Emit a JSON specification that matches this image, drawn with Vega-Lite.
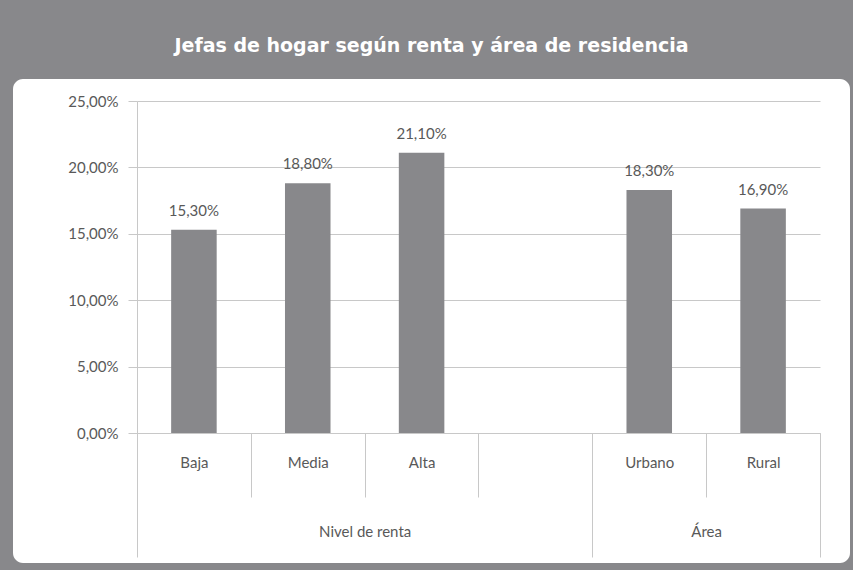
{
  "$schema": "https://vega.github.io/schema/vega-lite/v6.json",
  "width": 837,
  "height": 484,
  "autosize": "none",
  "padding": {"left": 13, "top": 79, "right": 3, "bottom": 7},
  "background": "#88888b",
  "title": {
    "text": "Jefas de hogar según renta y área de residencia",
    "color": "white",
    "font": "DejaVu Sans",
    "fontSize": 19,
    "fontWeight": "bold",
    "anchor": "middle",
    "baseline": "middle",
    "offset": 14
  },
  "config": {
    "view": {"fill": "white", "stroke": null, "cornerRadius": 10},
    "locale": {
      "number": {"decimal": ",", "thousands": ".", "grouping": [3], "currency": ["", " €"]}
    }
  },
  "data": {
    "values": [
      {"cat": "Baja", "v": 0.153},
      {"cat": "Media", "v": 0.188},
      {"cat": "Alta", "v": 0.211},
      {"cat": "Urbano", "v": 0.183},
      {"cat": "Rural", "v": 0.169}
    ]
  },
  "layer": [
    {
      "layer": [
        {
          "mark": {"type": "bar", "color": "#88888b", "width": {"band": 0.4}},
          "encoding": {
            "x": {
              "field": "cat",
              "type": "nominal",
              "sort": null,
              "scale": {
                "domain": ["Baja", "Media", "Alta", " ", "Urbano", "Rural"],
                "range": [124, 807],
                "paddingInner": 0,
                "paddingOuter": 0
              },
              "axis": {
                "orient": "bottom",
                "offset": -130,
                "title": null,
                "grid": false,
                "tickBand": "extent",
                "tickSize": 64,
                "tickColor": "#c8c8c8",
                "domainColor": "#c8c8c8",
                "labelPadding": -42,
                "labelAngle": 0,
                "labelFont": "Lato",
                "labelFontSize": 15,
                "labelColor": "#595959"
              }
            },
            "y": {
              "field": "v",
              "type": "quantitative",
              "scale": {"domain": [0, 0.25], "range": [354, 22], "nice": false},
              "axis": {
                "values": [0, 0.05, 0.1, 0.15, 0.2, 0.25],
                "format": ".2%",
                "offset": -124,
                "title": null,
                "grid": true,
                "gridColor": "#c8c8c8",
                "domainColor": "#c8c8c8",
                "tickColor": "#c8c8c8",
                "tickSize": 9,
                "labelPadding": 10,
                "labelFont": "Lato",
                "labelFontSize": 15,
                "labelColor": "#595959"
              }
            }
          }
        },
        {
          "mark": {
            "type": "text",
            "baseline": "alphabetic",
            "dy": -14,
            "font": "Lato",
            "fontSize": 15,
            "color": "#595959"
          },
          "encoding": {
            "x": {"field": "cat", "type": "nominal", "sort": null},
            "y": {"field": "v", "type": "quantitative"},
            "text": {"field": "v", "type": "quantitative", "format": ".2%"}
          }
        }
      ]
    },
    {
      "mark": {"type": "rule", "opacity": 0},
      "encoding": {
        "x": {
          "datum": 3,
          "type": "quantitative",
          "scale": {"domain": [0, 6], "range": [124, 807], "nice": false, "zero": false},
          "axis": {
            "orient": "bottom",
            "offset": -130,
            "values": [0, 2, 4, 5, 6],
            "title": null,
            "domain": false,
            "grid": false,
            "tickSize": 124,
            "tickColor": {
              "condition": {"test": "datum.value == 2 || datum.value == 5", "value": "transparent"},
              "value": "#c8c8c8"
            },
            "labelExpr": "datum.value == 2 ? 'Nivel de renta' : datum.value == 5 ? 'Área' : ''",
            "labelPadding": -33,
            "labelFlush": false,
            "labelOverlap": false,
            "labelBound": false,
            "labelFont": "Lato",
            "labelFontSize": 15,
            "labelColor": "#595959"
          }
        }
      }
    }
  ],
  "resolve": {"scale": {"x": "independent"}, "axis": {"x": "independent"}}
}
